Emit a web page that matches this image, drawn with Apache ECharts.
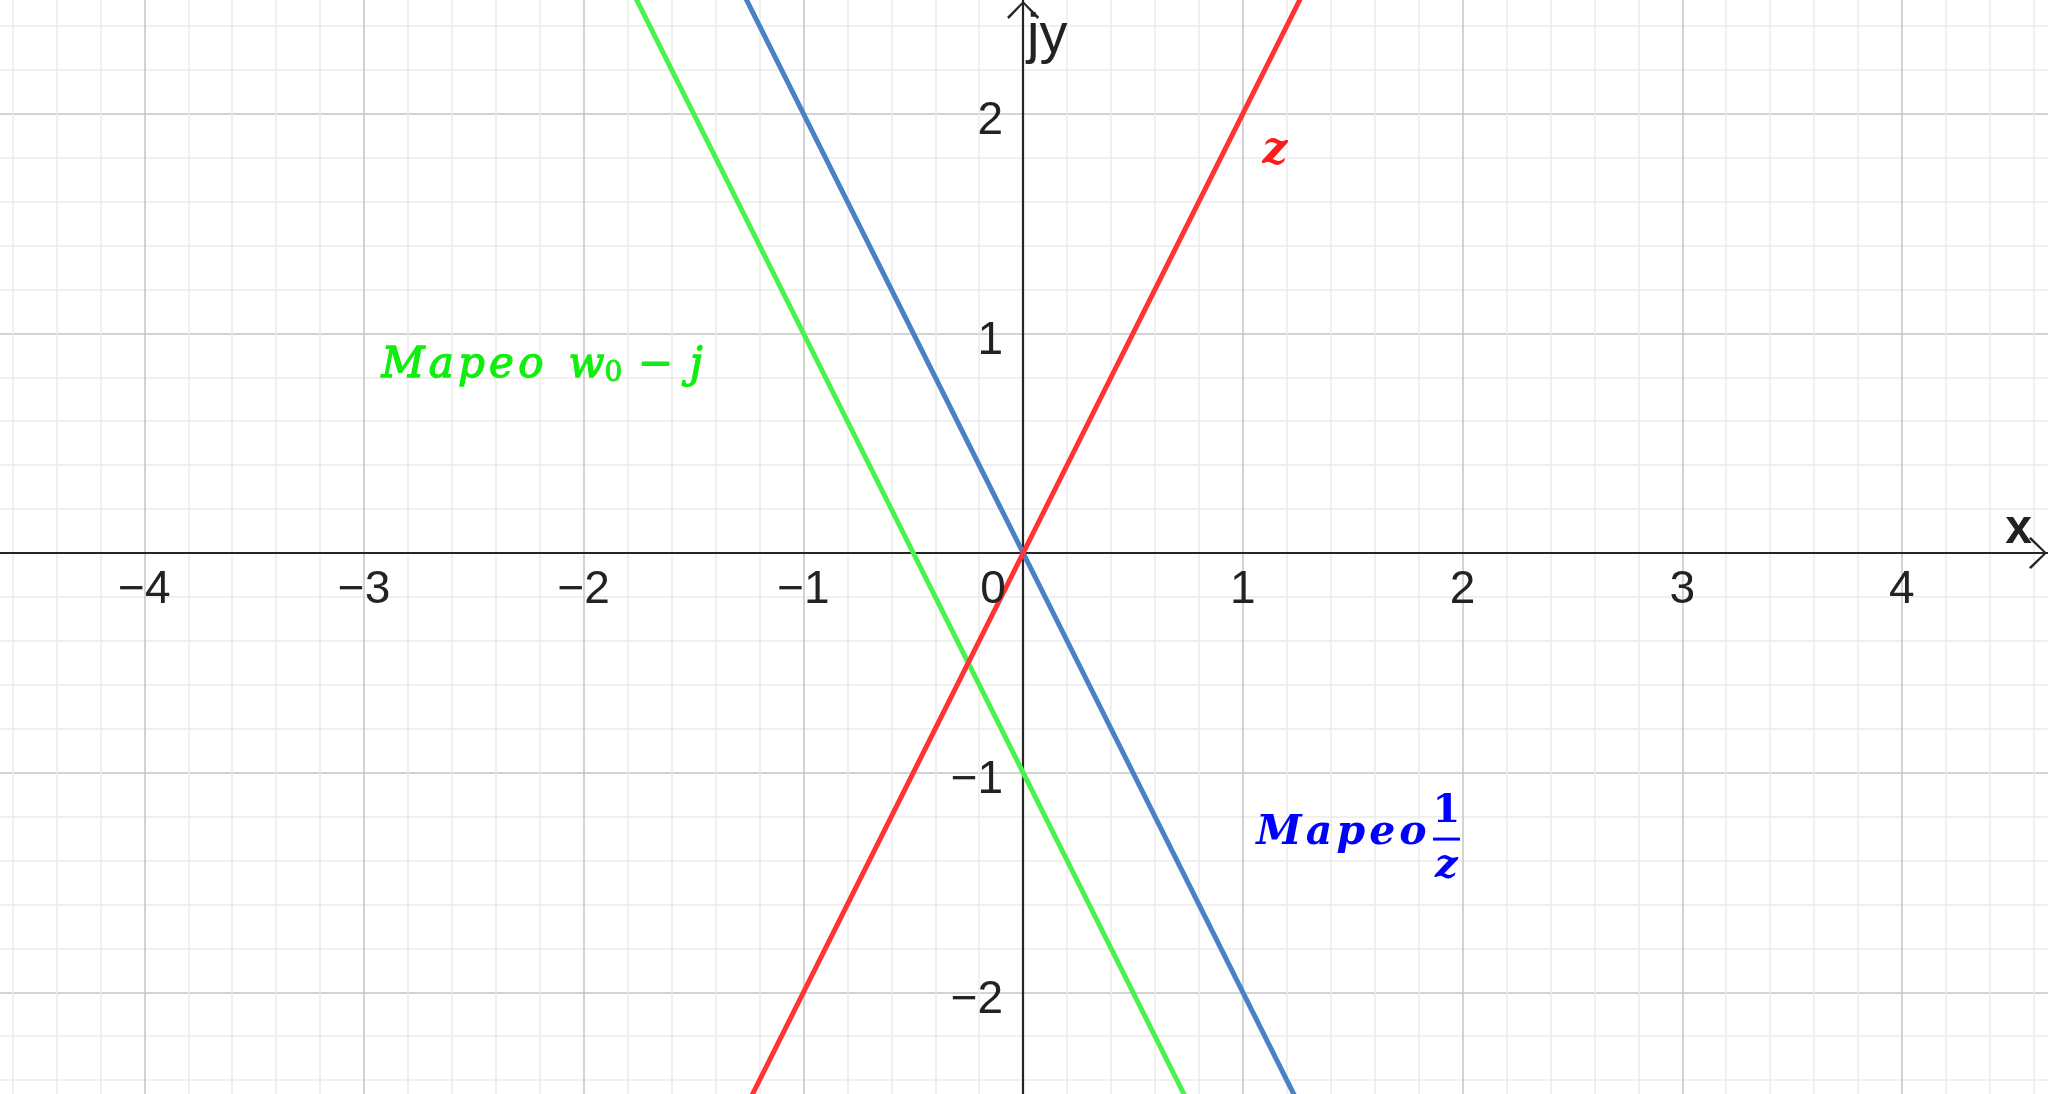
<!DOCTYPE html>
<html><head><meta charset="utf-8">
<script src="https://cdn.jsdelivr.net/npm/echarts@6/dist/echarts.min.js"></script>
<style>html,body{margin:0;padding:0;background:#fff}#c{width:2048px;height:1094px}</style>
</head><body><div id="c"></div>
<script>
// ---- data ----
const xGridRange = [-5, 5];          // grid axis range (integers)
const yGridRange = [-3, 3];
const xView = [-4.657, 4.665];       // visible window
const yView = [-2.463, 2.5176];
const xTickValues = [-4, -3, -2, -1, 1, 2, 3, 4];
const yTickValues = [-2, -1, 1, 2];
const lineZ   = [[-2, -4], [2, 4]];      // z : y = 2x
const lineInv = [[-2, 4], [2, -4]];      // Mapeo 1/z : y = -2x
const lineW0  = [[-2, 3], [2, -5]];      // Mapeo w0 - j : y = -2x - 1
const labelZPos   = [1.146, 1.826];
const labelW0Pos  = [-2.92, 0.851];
const labelInvPos = [1.449, -1.275];
const labelFracPos = [1.927, -1.307];
const originLabel = [0, 0];

const SANS = "'Liberation Sans', Arial, sans-serif";
const SERIF = "'DejaVu Serif', serif";
const fmtNum = v => v < 0 ? '\u2212' + (-v) : String(v);
const arrowPath = 'path://M0,17 L17,0 L34,17 L32,19 L17,3 L2,19 Z';

const chart = echarts.init(document.getElementById('c'), null, {renderer: 'canvas'});
const tickText = {fontSize: 46, lineHeight: 46, color: '#222222', fontFamily: SANS};
const axisLineStyle = {color: '#252525', width: 2.2};
const opaque = {opacity: 1};

chart.setOption({
  animation: false,
  backgroundColor: '#ffffff',
  grid: [
    {left: -75.35, right: -73.65, top: -105.95, bottom: -117.95, containLabel: false, outerBoundsMode: 'none'},
    {left: 0, right: 0, top: 0, bottom: 0, containLabel: false, outerBoundsMode: 'none'}
  ],
  xAxis: [
    {gridIndex: 0, type: 'value', min: xGridRange[0], max: xGridRange[1], interval: 1,
     axisLine: {show: false}, axisTick: {show: false}, axisLabel: {show: false},
     splitLine: {show: true, lineStyle: {color: '#c4c4c4', width: 1.5}},
     minorTick: {show: false, splitNumber: 5},
     minorSplitLine: {show: true, lineStyle: {color: '#ececec', width: 1.5}}},
    {gridIndex: 1, type: 'value', min: xView[0], max: xView[1],
     axisLine: {show: true, onZero: true, symbol: ['none', arrowPath], symbolSize: [34, 18], symbolOffset: [0, -10],
                lineStyle: axisLineStyle},
     axisTick: {show: false}, splitLine: {show: false}, axisLabel: {show: false},
     name: 'x', nameLocation: 'end', nameGap: -16,
     nameTextStyle: {fontSize: 48, lineHeight: 46, fontWeight: 'bold', fontFamily: SANS, color: '#222222',
                     align: 'right', verticalAlign: 'bottom', padding: [0, 0, 0, 0]}}
  ],
  yAxis: [
    {gridIndex: 0, type: 'value', min: yGridRange[0], max: yGridRange[1], interval: 1,
     axisLine: {show: false}, axisTick: {show: false}, axisLabel: {show: false},
     splitLine: {show: true, lineStyle: {color: '#c4c4c4', width: 1.5}},
     minorTick: {show: false, splitNumber: 5},
     minorSplitLine: {show: true, lineStyle: {color: '#ececec', width: 1.5}}},
    {gridIndex: 1, type: 'value', min: yView[0], max: yView[1],
     axisLine: {show: true, onZero: true, symbol: ['none', arrowPath], symbolSize: [34, 18], symbolOffset: [0, -10],
                lineStyle: axisLineStyle},
     axisTick: {show: false}, splitLine: {show: false}, axisLabel: {show: false},
     name: 'jy', nameLocation: 'end', nameGap: -9,
     nameTextStyle: {fontSize: 56, lineHeight: 56, fontFamily: SANS, color: '#222222', align: 'left', verticalAlign: 'top', padding: [0, 0, 0, 4]}}
  ],
  series: [
    {type: 'line', xAxisIndex: 0, yAxisIndex: 0, data: lineW0, showSymbol: false, z: 3,
     lineStyle: {color: '#4cf24c', width: 5}},
    {type: 'line', xAxisIndex: 0, yAxisIndex: 0, data: lineInv, showSymbol: false, z: 4,
     lineStyle: {color: '#4a80c6', width: 5}},
    {type: 'line', xAxisIndex: 0, yAxisIndex: 0, data: lineZ, showSymbol: false, z: 5,
     lineStyle: {color: '#ff3535', width: 5}},
    // x tick labels
    {type: 'scatter', xAxisIndex: 1, yAxisIndex: 1, symbolSize: 0, z: 6, silent: true, itemStyle: opaque,
     data: xTickValues.map(v => [v, 0]),
     label: Object.assign({show: true, position: 'inside', offset: [0, 37], formatter: p => fmtNum(p.value[0])}, tickText)},
    // y tick labels
    {type: 'scatter', xAxisIndex: 1, yAxisIndex: 1, symbolSize: 0, z: 6, silent: true, itemStyle: opaque,
     data: yTickValues.map(v => [0, v]),
     label: Object.assign({show: true, position: 'inside', align: 'right', offset: [-20, 8], formatter: p => fmtNum(p.value[1])}, tickText)},
    // annotations
    {type: 'scatter', xAxisIndex: 1, yAxisIndex: 1, symbolSize: 0, z: 6, silent: true, itemStyle: opaque,
     data: [
       {value: originLabel, label: {show: true, formatter: '0', position: 'inside', offset: [-30, 37],
         fontSize: 46, lineHeight: 46, fontFamily: SANS, color: '#222222'}},
       {value: labelZPos, label: {show: true, formatter: 'z', position: 'inside',
         fontSize: 44, fontFamily: SERIF, fontStyle: 'italic', fontWeight: 'bold', color: '#ff1a1a'}},
       {value: labelW0Pos, label: {show: true, position: 'inside', align: 'left',
         formatter: '{m|M\u200Aa\u200Ap\u200Ae\u200Ao\u2002\u200Aw}{s|0}{m|\u2006\u2009\u2212\u2009\u2009j}',
         rich: {
           m: {fontSize: 42, lineHeight: 44, fontFamily: SERIF, fontStyle: 'italic', color: '#10ee10',
               textBorderColor: '#10ee10', textBorderWidth: 1.3},
           s: {fontSize: 28, lineHeight: 28, fontFamily: SERIF, color: '#10ee10', verticalAlign: 'bottom',
               textBorderColor: '#10ee10', textBorderWidth: 1}
         }}},
       {value: labelInvPos, label: {show: true, position: 'inside',
         formatter: 'M\u200Aa\u200Ap\u200Ae\u200Ao',
         fontSize: 41, fontFamily: SERIF, fontStyle: 'italic', fontWeight: 'bold', color: '#0000ff'}},
       {value: labelFracPos, label: {show: true, position: 'inside',
         formatter: '{n|1}\n{bar|}\n{d|z}',
         rich: {
           n: {fontSize: 40, lineHeight: 48, fontFamily: SERIF, fontWeight: 'bold', color: '#0000ff', align: 'center'},
           bar: {width: 27, height: 3, lineHeight: 6, backgroundColor: '#0000ff', align: 'center'},
           d: {fontSize: 40, lineHeight: 50, fontFamily: SERIF, fontStyle: 'italic', fontWeight: 'bold', color: '#0000ff', align: 'center'}
         }}}
     ]}
  ]
});
</script>
</body></html>
